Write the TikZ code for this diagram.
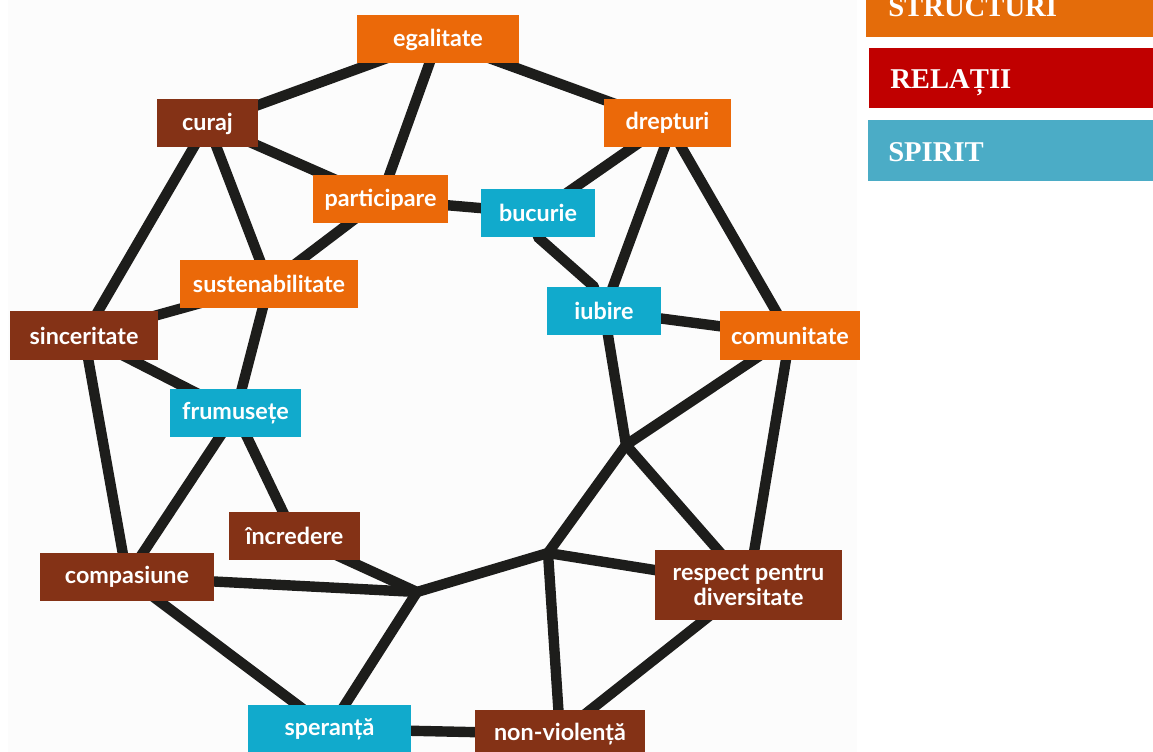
\documentclass[tikz,border=0pt]{standalone}
\usepackage{fontspec}
\setmainfont{Lato}
\newfontfamily\legendfont{Liberation Serif}
\usetikzlibrary{backgrounds,calc}
\definecolor{struct}{HTML}{EB6909}
\definecolor{relat}{HTML}{843216}
\definecolor{spirit}{HTML}{11AACC}
\definecolor{legstruct}{HTML}{E46C0A}
\definecolor{legrelat}{HTML}{C00000}
\definecolor{legspirit}{HTML}{4BACC6}
\definecolor{ink}{HTML}{1D1D1B}
\definecolor{paper}{HTML}{FCFCFC}
\tikzset{
  tag/.style={minimum height=36pt, minimum width=#1*0.75pt, inner sep=0pt,
    text=white, font=\bfseries\fontsize{17.5}{19}\selectfont},
  st/.style={tag=#1, fill=struct},
  rl/.style={tag=#1, fill=relat},
  sp/.style={tag=#1, fill=spirit},
  link/.style={draw=ink, line width=7.8pt, line cap=round, line join=round},
  legendtext/.style={anchor=base west, text=white, inner sep=0pt,
    font=\legendfont\bfseries\fontsize{21.5}{24}\selectfont}
}
\begin{document}
\begin{tikzpicture}[x=0.75pt, y=-0.75pt]
\useasboundingbox (0,0) rectangle (1153,752);

% concept boxes
\node[st=162] (egal)  at (438,39.5)  {egalitate};
\node[rl=101] (curaj) at (207.5,123.5) {curaj};
\node[st=127] (drept) at (667.5,123) {drepturi};
\node[st=135] (part)  at (380.5,199.5) {participare};
\node[sp=114] (bucur) at (538,213)   {bucurie};
\node[st=178] (sust)  at (269,284)   {sustenabilitate};
\node[sp=114] (iubir) at (604,311)   {iubire};
\node[st=140] (comun) at (790,335.5) {comunitate};
\node[rl=148] (sinc)  at (84,335.5)  {sinceritate};
\node[sp=131] (frum)  at (235.5,413) {frumusețe};
\node[rl=131] (incr)  at (294.5,536) {încredere};
\node[rl=174] (comp)  at (127,577)   {compasiune};
\node[rl=187, minimum height=52.5pt, align=center,
      font=\bfseries\fontsize{17.5}{18.75}\selectfont]
      (resp)  at (748.5,585) {respect pentru\\diversitate};
\node[sp=163] (sper)  at (329.5,729) {speranță};
\node[rl=170] (nonv)  at (560,734)   {non-violență};

% junctions of the network
\coordinate (j1) at (417,592);
\coordinate (j2) at (548,553);
\coordinate (j3) at (626,445);

\begin{scope}[on background layer]
  \fill[paper] (8,0) rectangle (857,752);
  \draw[link] (egal.center) -- (curaj.center);
  \draw[link] (egal.center) -- (drept.center);
  \draw[link] (egal.center) -- (part.center);
  \draw[link] (curaj.center) -- (part.center);
  \draw[link] (curaj.center) -- (sinc.center);
  \draw[link] (curaj.center) -- (sust.center);
  \draw[link] (part.center) -- (bucur.center);
  \draw[link] (part.center) -- (sust.center);
  \draw[link] (drept.center) -- (bucur.center);
  \draw[link] ($(drept.center)+(6,0)$) -- (iubir.center);
  \draw[link] (drept.center) -- (comun.center);
  \draw[link] (bucur.south) -- ($(iubir.north)+(-10,0)$);
  \draw[link] (iubir.center) -- (comun.center);
  \draw[link] (iubir.center) -- (j3);
  \draw[link] (comun.center) -- (j3);
  \draw[link] (comun.center) -- (resp.center);
  \draw[link] (j3) -- (resp.center);
  \draw[link] (j3) -- (j2);
  \draw[link] (j2) -- (resp.center);
  \draw[link] (j2) -- (nonv.center);
  \draw[link] (j2) -- (j1);
  \draw[link] (resp.center) -- (nonv.center);
  \draw[link] (sust.center) -- (sinc.center);
  \draw[link] (sust.center) -- (frum.center);
  \draw[link] (sinc.center) -- (frum.center);
  \draw[link] (sinc.center) -- (comp.center);
  \draw[link] (frum.center) -- (comp.center);
  \draw[link] (frum.center) -- (incr.center);
  \draw[link] (incr.center) -- (j1);
  \draw[link] (comp.center) -- (j1);
  \draw[link] (j1) -- (sper.center);
  \draw[link] (comp.center) -- (sper.center);
  \draw[link] (sper.center) -- (nonv.center);
\end{scope}

% legend
\fill[legstruct] (866,-5) rectangle (1153,37);
\fill[legrelat]  (869,48) rectangle (1153,108);
\fill[legspirit] (868,120) rectangle (1153,181);
\node[legendtext] (lstruct) at (888,17)  {STRUCTURI};
\node[legendtext] (lrelat)  at (890,89)  {RELAȚII};
\node[legendtext] (lspirit) at (888,162) {SPIRIT};
\end{tikzpicture}
\end{document}
